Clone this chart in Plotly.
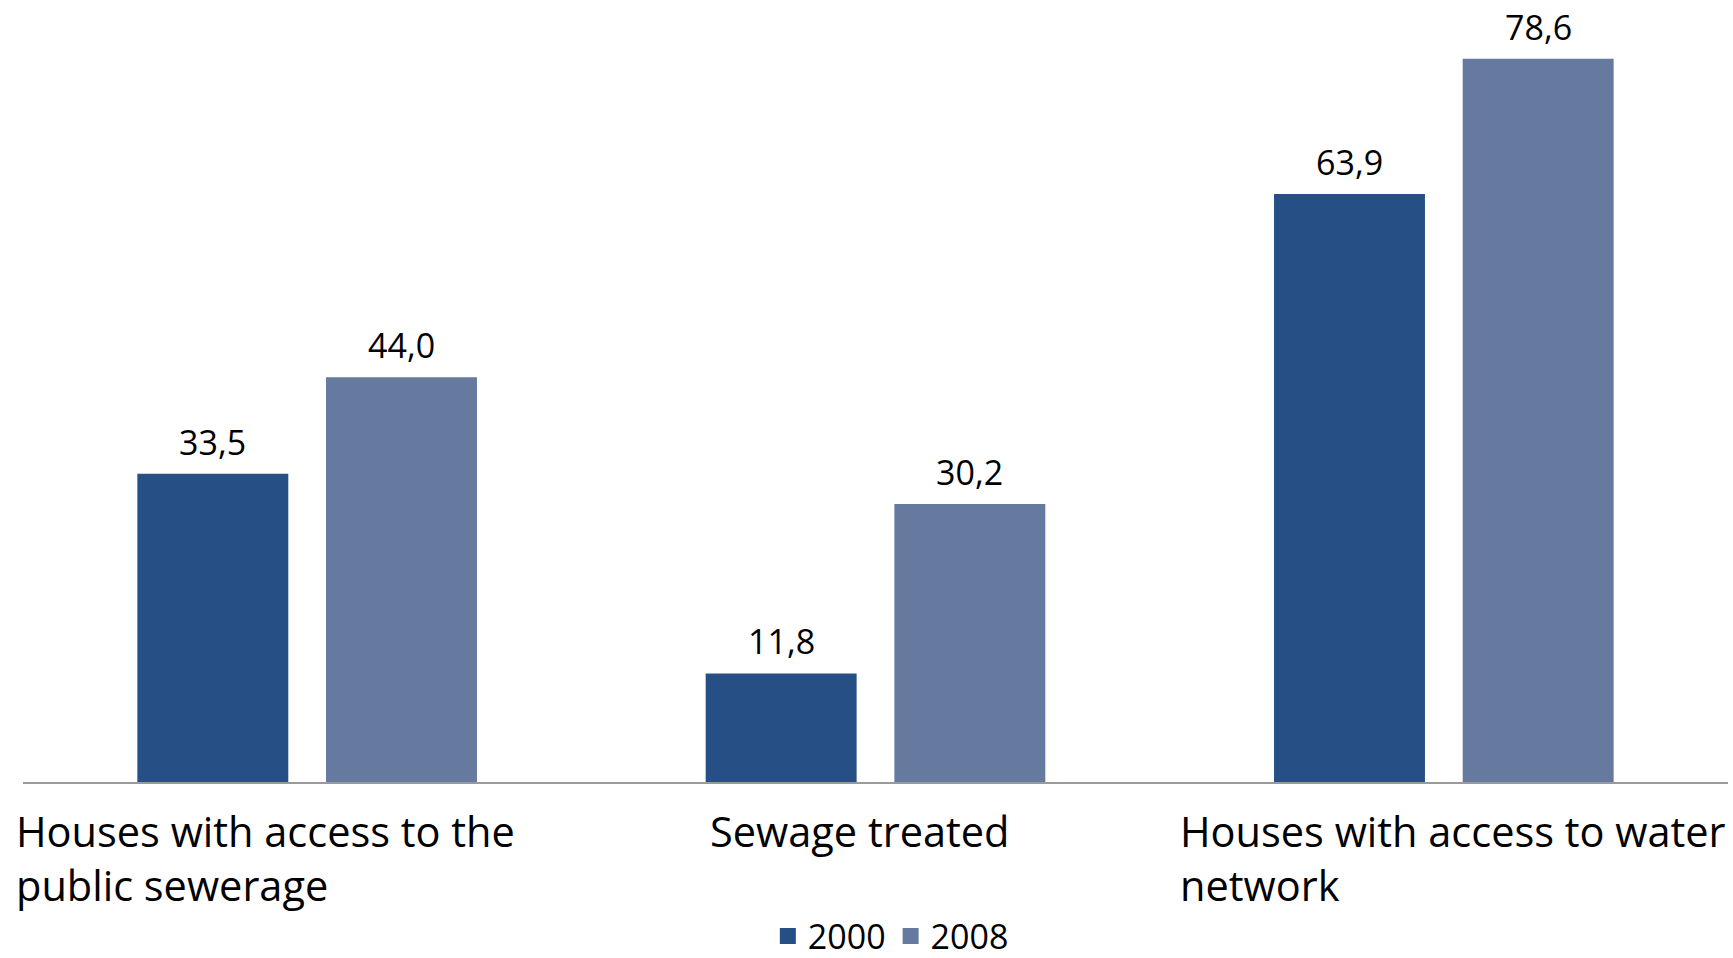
import plotly.graph_objects as go

categories = ["Houses with access to the<br>public sewerage", "Sewage treated",
              "Houses with access to water<br>network"]
years = ["2000", "2008"]
values_2000 = [33.5, 11.8, 63.9]
values_2008 = [44.0, 30.2, 78.6]

colors = {"2000": "#265085", "2008": "#667AA0"}
label_anchor = ["left", "center", "left"]
label_xshift = [-9, -16, 18]
FONT = "Open Sans, sans-serif"
BARGAP = 0.336
BARGROUPGAP = 0.2

cat_idx = list(range(len(categories)))
series = [values_2000, values_2008]

fig = go.Figure()
for yr, vals in zip(years, series):
    fig.add_trace(go.Bar(
        name=yr, x=cat_idx, y=vals, showlegend=False,
        marker=dict(color=colors[yr], line=dict(width=0)),
    ))

# value labels above each bar, positioned via the bar layout params
nser = len(series)
for k, vals in enumerate(series):
    off = (k - (nser - 1) / 2) * (1 - BARGAP) / nser
    for i, v in enumerate(vals):
        fig.add_annotation(
            x=i + off, y=v, xref="x", yref="y", text=f"{v:.1f}".replace(".", ","),
            showarrow=False, xanchor="center", yanchor="middle", yshift=32,
            font=dict(family=FONT, size=34, color="#000000"),
        )

# legend entries (square markers)
for yr in years:
    fig.add_trace(go.Scatter(
        name=yr, x=[None], y=[None], mode="markers",
        marker=dict(symbol="square", size=23, color=colors[yr]),
        showlegend=True,
    ))

for i, (cat, anc, xs) in enumerate(zip(categories, label_anchor, label_xshift)):
    fig.add_annotation(
        x=(i - 0.5) if anc == "left" else i, y=0, xref="x", yref="y",
        text=cat, showarrow=False, xanchor=anc, yanchor="top", align="left",
        yshift=-19, xshift=xs,
        font=dict(family=FONT, size=41.5, color="#000000"),
    )

fig.update_layout(
    width=1733, height=958,
    margin=dict(l=23, r=5, t=10, b=176, autoexpand=False),
    paper_bgcolor="white", plot_bgcolor="white",
    barmode="group", bargap=BARGAP, bargroupgap=BARGROUPGAP,
    separators=",.",
    showlegend=True,
    legend=dict(orientation="h", x=0.509, xanchor="center", y=-0.2, yanchor="middle",
                font=dict(family=FONT, size=34, color="#000000"),
                itemwidth=30, traceorder="normal", bgcolor="rgba(0,0,0,0)"),
    xaxis=dict(type="linear", range=[-0.5, 2.5], showticklabels=False, showgrid=False,
               zeroline=False, showline=True, linecolor="#9a9a9a", linewidth=2, ticks=""),
    yaxis=dict(range=[0, 83.9], visible=False, showgrid=False, zeroline=False),
)

fig.write_html("out.html")
